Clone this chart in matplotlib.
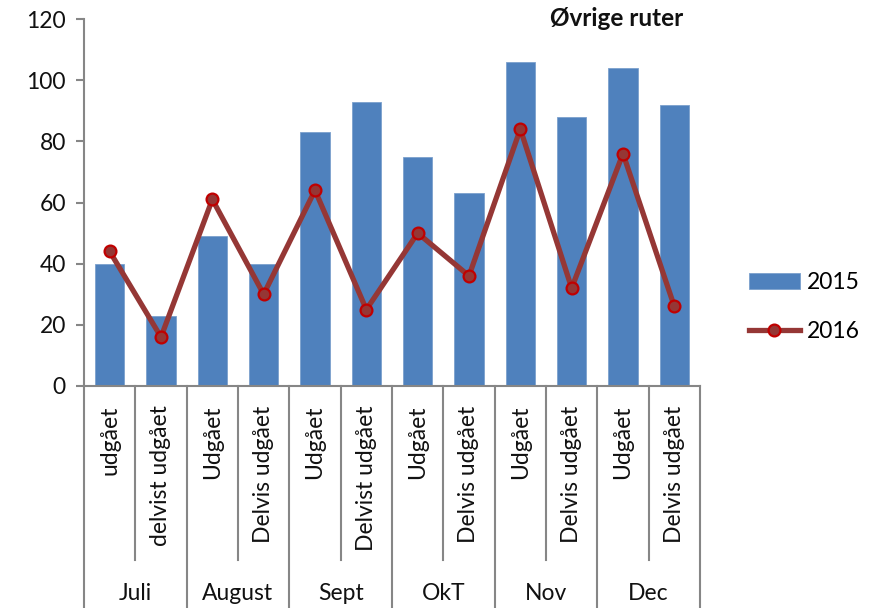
import matplotlib
matplotlib.use("Agg")
import matplotlib.pyplot as plt
import matplotlib.transforms as mtransforms
from matplotlib.lines import Line2D

plt.rcParams['font.family'] = ['Lato', 'DejaVu Sans']

# data
months = ['Juli', 'August', 'Sept', 'OkT', 'Nov', 'Dec']
sub_labels = ['udgået', 'delvist udgået',
              'Udgået', 'Delvis udgået',
              'Udgået', 'Delvist udgået',
              'Udgået', 'Delvis udgået',
              'Udgået', 'Delvis udgået',
              'Udgået', 'Delvis udgået']
vals_2015 = [40, 23, 49, 40, 83, 93, 75, 63, 106, 88, 104, 92]
vals_2016 = [44, 16, 61, 30, 64, 25, 50, 36, 84, 32, 76, 26]

gray = '#868686'
txt = '#111111'
fs = 16.5

fig = plt.figure(figsize=(8.7, 6.08), dpi=100)
ax = fig.add_axes([84/870, 1 - 386/608, (700-84)/870, (386-19)/608])

x = list(range(len(vals_2015)))
bars = ax.bar(x, vals_2015, width=0.57, color='#4F81BD', edgecolor='#7BA0CD',
              linewidth=0.6, label='2015', zorder=2)
line, = ax.plot(x, vals_2016, color='#953735', linewidth=3.8, marker='o',
                markersize=8.5, markerfacecolor='#953735',
                markeredgecolor='#C00000', markeredgewidth=1.6,
                label='2016', zorder=3)

ax.set_xlim(-0.5, len(x) - 0.5)
ax.set_ylim(0, 120)
ax.set_yticks(range(0, 121, 20))
ax.tick_params(axis='y', labelsize=fs, colors=gray, labelcolor=txt,
               length=6, width=1.5, pad=7)
ax.set_xticks(x)
ax.set_xticklabels(sub_labels, rotation=90, fontsize=fs, color=txt,
                   va='top', ha='center')
ax.tick_params(axis='x', length=0, pad=14)

for s in ['top', 'right']:
    ax.spines[s].set_visible(False)
for s in ['left', 'bottom']:
    ax.spines[s].set_color(gray)
    ax.spines[s].set_linewidth(1.5)

# two-level category axis
trans = mtransforms.blended_transform_factory(ax.transData, fig.transFigure)
y_axis = 1 - 386/608
y_inner = 1 - 560/608
for g in range(len(months) + 1):
    xb = 2*g - 0.5
    ax.add_line(Line2D([xb, xb], [y_axis, 0], transform=trans, color=gray,
                       linewidth=1.5, clip_on=False))
for g in range(len(months)):
    xb = 2*g + 0.5
    ax.add_line(Line2D([xb, xb], [y_axis, y_inner], transform=trans,
                       color=gray, linewidth=1.5, clip_on=False))
    ax.text(2*g + 0.5, 1 - 594/608, months[g], transform=trans, fontsize=fs,
            ha='center', va='center', color=txt)

fig.text(617/870, 1 - 18/608, 'Øvrige ruter', fontsize=17.5,
         fontweight='bold', ha='center', va='center', color=txt)

fig.legend([bars, line], ['2015', '2016'], loc='center left',
           bbox_to_anchor=(740/870, 1 - 307/608), frameon=False, fontsize=fs,
           handlelength=2.2, handletextpad=0.3, labelspacing=1.25,
           borderaxespad=0)

fig.savefig('out.png', dpi=100)
